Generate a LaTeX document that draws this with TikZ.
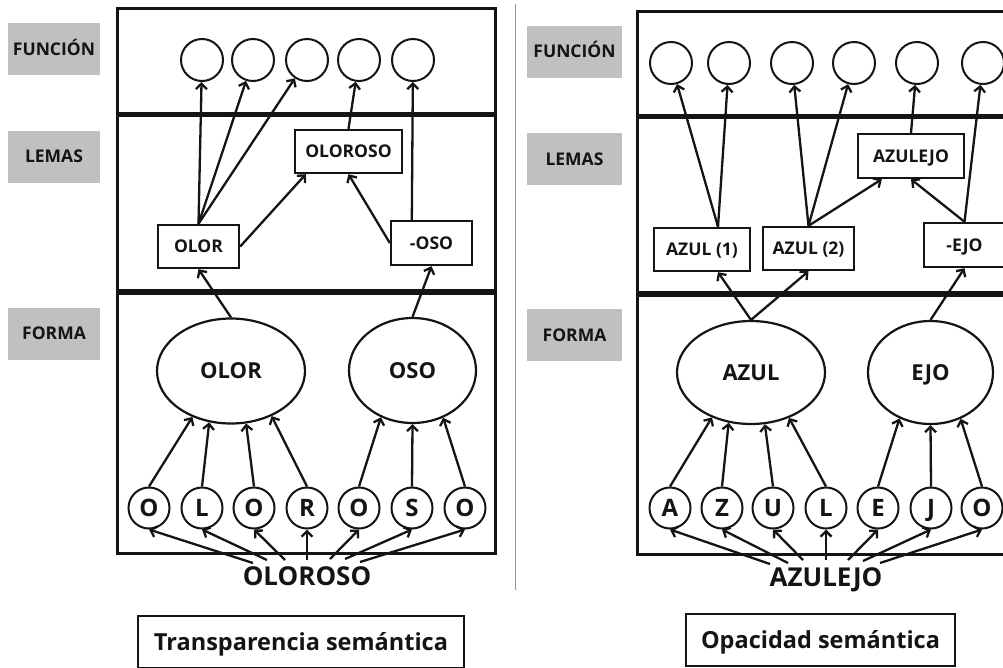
\documentclass[tikz,border=0pt]{standalone}
\usepackage{fontspec}
\setmainfont{Open Sans}
\usetikzlibrary{arrows.meta,shapes.geometric,calc}
\definecolor{labelgray}{RGB}{192,192,192}
\definecolor{rulegray}{RGB}{150,150,150}
\definecolor{ink}{RGB}{20,20,20}
\begin{document}
\begin{tikzpicture}[x=1pt,y=-1pt,
  frame/.style={draw=ink,line width=3pt},
  divider/.style={draw=ink,line width=5pt},
  lvl/.style={fill=labelgray,minimum width=92,minimum height=52,inner sep=0,
    font=\bfseries\fontsize{17.5}{20}\selectfont,text=ink,text height=12.5,text depth=0},
  fn/.style={circle,draw=ink,line width=2pt,minimum size=42,inner sep=0},
  lemma/.style={draw=ink,line width=2.4pt,fill=white,inner sep=0,minimum height=43,
    font=\bfseries\fontsize{17.5}{20}\selectfont,text=ink,text height=12.5,text depth=0},
  blob/.style={ellipse,draw=ink,line width=2.2pt,inner sep=0,
    font=\bfseries\fontsize{22}{24}\selectfont,text=ink,text height=15.7,text depth=0},
  letter/.style={circle,draw=ink,line width=2pt,minimum size=41,inner sep=0,
    font=\bfseries\fontsize{24}{26}\selectfont,text=ink,text height=17.1,text depth=0},
  word/.style={inner sep=0,font=\bfseries\fontsize{26}{28}\selectfont,text=ink},
  caption/.style={draw=ink,line width=2pt,inner sep=0,minimum height=52,
    font=\bfseries\fontsize{23.5}{28}\selectfont,text=ink,text height=16.8,text depth=0},
  arr/.style={draw=ink,line width=2.3pt,-{Straight Barb[length=5.5pt,width=11pt]}},
  sep/.style={draw=rulegray,line width=1pt}]
\useasboundingbox (0,0) rectangle (1003,667);
\clip (0,0) rectangle (1003,667);

% column separator
\draw[sep] (515,4) -- (515,590);

% level labels
\node[lvl] (lvlFunL) at (54,49) {FUNCIÓN};
\node[lvl] (lvlLemL) at (54,156.5) {LEMAS};
\node[lvl] (lvlForL) at (54,333.5) {FORMA};
\node[lvl,minimum width=95] (lvlFunR) at (574.5,51.5) {FUNCIÓN};
\node[lvl,minimum width=95] (lvlLemR) at (574.5,159) {LEMAS};
\node[lvl,minimum width=95] (lvlForR) at (574.5,335) {FORMA};

% ---------- left column: OLOROSO ----------
\draw[frame] (117,8) rectangle (495,290);
\draw[frame] (117,293) rectangle (495,553);
\draw[divider] (117,114) -- (495,114);

\foreach \n/\x in {1/202,2/253,3/307,4/359,5/413}
  \node[fn] (f\n) at (\x,60) {};

\node[lemma,minimum width=107] (lOloroso) at (348.5,151.5) {OLOROSO};
\node[lemma,minimum width=81] (lOlor) at (198.5,246.5) {OLOR};
\node[lemma,minimum width=81,minimum height=44] (lOso) at (431.5,243) {-OSO};

\node[blob,minimum width=148,minimum height=105] (eOlor) at (231,371) {OLOR};
\node[blob,minimum width=127,minimum height=105] (eOso) at (412.5,370.5) {OSO};

\foreach \n/\x/\t in {1/149/O,2/202/L,3/254/O,4/307/R,5/359/O,6/412/S,7/465/O}
  \node[letter] (c\n) at (\x,508) {\t};

\node[word,anchor=base] (wL) at (307,585) {OLOROSO};

\coordinate (lOlorosoIn) at ($(lOloroso.south west)+(12,0)$);
\coordinate (lOsoOut) at ($(lOso.north west)+(22,0)$);
\draw[arr] (lOlor.north) -- (f1);
\draw[arr] (lOlor.north) -- (f2);
\draw[arr] (lOlor.north) -- (f3);
\draw[arr] (lOlor.east) -- (lOlorosoIn);
\draw[arr] (lOso.west) -- (lOloroso.south);
\draw[arr] (lOloroso.north) -- (f4);
\draw[arr] (lOsoOut) -- (f5);
\draw[arr] (eOlor.north) -- (lOlor.south);
\draw[arr] (eOso.north) -- (lOso.south);

\draw[arr] (c1.north) -- (eOlor.230);
\draw[arr] (c2.north) -- (eOlor.247);
\draw[arr] (c3.north) -- (eOlor.286);
\draw[arr] (c4.north) -- (eOlor.312);
\draw[arr] (c5.north) -- (eOso.236);
\draw[arr] (c6.north) -- (eOso.270);
\draw[arr] (c7.north) -- (eOso.303);

\foreach \i/\dx/\dy in {1/-54/-22,2/-40/-25,3/-22/-25,4/0/-25,5/23/-26,6/38/-26,7/53/-23}{
  \coordinate (ws\i) at ($(wL.base)+(\dx,\dy)$);
  \draw[arr] (ws\i) -- (c\i.south);
}

% ---------- right column: AZULEJO ----------
\draw[frame] (637,11) rectangle (1012,292);
\draw[frame] (637,295) rectangle (1012,554);
\draw[divider] (637,116) -- (1012,116);

\foreach \n/\x in {1/671,2/729,3/792,4/854,5/917,6/983}
  \node[fn] (g\n) at (\x,63) {};

\node[lemma,minimum width=106,minimum height=44] (rAzulejo) at (911,156) {AZULEJO};
\node[lemma,minimum width=96] (rAzul1) at (702,249.5) {AZUL (1)};
\node[lemma,minimum width=91] (rAzul2) at (808.5,248.5) {AZUL (2)};
\node[lemma,minimum width=81,minimum height=44] (rEjo) at (964.5,245) {-EJO};

\node[blob,minimum width=148,minimum height=103] (eAzul) at (751,372.5) {AZUL};
\node[blob,minimum width=125,minimum height=103] (eEjo) at (930.5,372.5) {EJO};

\foreach \n/\x/\t in {1/670/A,2/722/Z,3/773/U,4/826/L,5/878/E,6/931/J,7/982/O}
  \node[letter] (d\n) at (\x,508) {\t};

\node[word,anchor=base] (wR) at (826,586) {AZULEJO};

\coordinate (rAzul1Top) at ($(rAzul1.north)+(16,0)$);
\coordinate (rAzul1In) at ($(rAzul1.south)+(16,0)$);
\coordinate (rAzulejoIn) at ($(rAzulejo.south west)+(25,0)$);
\draw[arr] (rAzul1Top) -- (g1);
\draw[arr] (rAzul1Top) -- (g2);
\draw[arr] (rAzul2.north) -- (g3);
\draw[arr] (rAzul2.north) -- (g4);
\draw[arr] (rAzul2.north) -- (rAzulejoIn);
\draw[arr] (rAzulejo.north) -- (g5);
\draw[arr] (rEjo.north) -- (rAzulejo.south);
\draw[arr] (rEjo.north) -- (g6);
\draw[arr] (eAzul.north) -- (rAzul1In);
\draw[arr] (eAzul.north) -- (rAzul2.south);
\draw[arr] (eEjo.north) -- (rEjo.south);

\draw[arr] (d1.north) -- (eAzul.229);
\draw[arr] (d2.north) -- (eAzul.246);
\draw[arr] (d3.north) -- (eAzul.285);
\draw[arr] (d4.north) -- (eAzul.310);
\draw[arr] (d5.north) -- (eEjo.236);
\draw[arr] (d6.north) -- (eEjo.270);
\draw[arr] (d7.north) -- (eEjo.303);

\foreach \i/\dx/\dy in {1/-56/-22,2/-38/-23,3/-23/-26,4/0/-26,5/22/-26,6/37/-25,7/54/-23}{
  \coordinate (wt\i) at ($(wR.base)+(\dx,\dy)$);
  \draw[arr] (wt\i) -- (d\i.south);
}

% captions
\node[caption,minimum width=326] (capL) at (301,642) {Transparencia semántica};
\node[caption,minimum width=269] (capR) at (820.5,640) {Opacidad semántica};
\end{tikzpicture}
\end{document}
